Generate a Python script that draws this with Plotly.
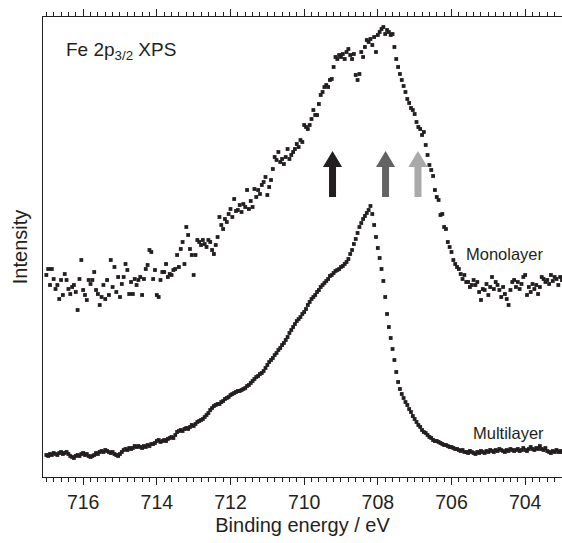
import plotly.graph_objects as go

# Binding-energy grid (eV), 0.05 eV steps from 717.00 down to 703.00
energy_start = 717.0
energy_step = 0.05

# Intensities (arbitrary units)
monolayer = [
    202, 208, 192, 208, 198, 188, 192, 178, 197, 182,
    203, 197, 188, 183, 190, 192, 185, 167, 198, 217,
    187, 182, 177, 197, 193, 197, 205, 187, 183, 172,
    180, 192, 178, 197, 182, 217, 190, 210, 185, 200,
    180, 193, 200, 213, 207, 183, 195, 183, 198, 192,
    197, 200, 182, 198, 208, 212, 227, 225, 198, 207,
    182, 180, 197, 205, 205, 213, 200, 203, 202, 207,
    208, 222, 210, 228, 235, 213, 250, 242, 228, 222,
    202, 222, 237, 235, 232, 237, 233, 230, 237, 235,
    227, 223, 232, 240, 260,
    252, 248, 258, 255, 263,
    268, 260, 278, 266, 267,
    272, 265, 273, 270, 287,
    268, 276, 270, 288, 280,
    287, 283, 292, 295, 300,
    282, 290, 297, 308, 320,
    317, 325, 315, 318, 313,
    320, 328, 318, 322, 325,
    328, 333, 330, 337, 335,
    352, 350, 348, 352, 358,
    367, 362, 362, 373, 382,
    385, 390, 392, 390, 397,
    398, 410, 420, 418, 422,
    420, 423, 418, 425, 428,
    422, 418, 423, 402, 397,
    403, 425, 420, 430, 437,
    435, 438, 432, 440, 425,
    442, 445, 448, 450, 443,
    447, 445, 442, 443, 430,
    418, 410, 403, 397, 391,
    385, 378, 374, 369, 367,
    363, 355, 350, 348, 342,
    345, 332, 322, 312, 307,
    301, 287, 280, 277, 262,
    263, 250, 248, 235, 230,
    225, 217, 213, 210, 208,
    203, 198, 202, 195, 195,
    190, 192, 197, 192, 195,
    185, 177, 188, 187, 193,
    182, 190, 200, 188, 195,
    192, 187, 180, 190, 183,
    178, 172, 187, 195, 197,
    190, 195, 188, 193, 200,
    202, 182, 190, 185, 193,
    188, 192, 183, 190, 200,
    198, 195, 197, 193, 202,
    196, 200, 198, 192, 200,
    197,
]

multilayer = [
    22, 21, 23, 22, 24, 23, 22, 24, 25, 23,
    24, 25, 23, 21, 20, 19, 21, 22, 21, 23,
    24, 22, 23, 21, 20, 21, 22, 24, 23, 25,
    26, 25, 27, 26, 25, 24, 25, 23, 22, 21,
    23, 25, 27, 28, 27, 29, 28, 29, 31, 30,
    31, 30, 29, 31, 30, 32, 31, 33, 33, 34,
    36, 37, 35, 36, 37, 36, 38, 39, 40, 39,
    42, 45, 46, 47, 46, 48, 49, 48, 50, 52,
    51, 53, 55, 56, 57, 58, 60, 62, 64, 67,
    69, 71, 72, 73, 73, 75, 76, 78, 79, 80,
    82, 83, 84, 85, 86, 86, 87, 88, 89, 91,
    92, 94, 96, 98, 100, 101, 103, 104, 106, 109,
    112, 115, 117, 119, 122, 124, 127, 129, 132, 134,
    137, 140, 144, 147, 150, 153, 156, 158, 160, 163,
    165, 168, 172, 175, 178, 180, 182, 185, 187, 190,
    192, 194, 196, 198, 201, 202, 204, 206, 207, 208,
    210, 211, 213, 215, 218, 223, 227, 233, 238, 244,
    250, 254, 258, 261, 264, 267, 271, 263, 252, 240,
    229, 219, 208, 196, 180, 163, 150, 139, 128, 117,
    105, 95, 88, 83, 79, 75, 72, 68, 65, 61,
    58, 55, 52, 50, 47, 45, 44, 42, 40, 39,
    37, 36, 36, 35, 34, 33, 32, 32, 31, 30,
    30, 29, 28, 28, 27, 26, 27, 25, 25, 24,
    26, 25, 24, 23, 25, 24, 26, 25, 24, 26,
    25, 27, 26, 25, 27, 26, 28, 27, 26, 25,
    27, 26, 28, 27, 26, 27, 28, 26, 27, 29,
    27, 26, 28, 30, 28, 27, 29, 28, 31, 28,
    27, 29, 26, 25, 24, 26, 25, 27, 25, 26,
    25,
]

energy = [round(energy_start - k * energy_step, 2) for k in range(len(monolayer))]

x_tick_values = [716, 714, 712, 710, 708, 706, 704]
x_range = [717.09, 703.0]
y_range = [0, 460]

# Arrows marking components (binding energy, colour)
arrow_energy = [709.23, 707.79, 706.91]
arrow_color = ["#231f20", "#636363", "#a9a9a9"]
arrow_bottom = 280
arrow_top = 326
arrow_head = 16
arrow_shaft_half = 0.095
arrow_head_half = 0.26

INK = "#231f20"
FONT = "Liberation Sans, Arial, Helvetica, sans-serif"

fig = go.Figure()
fig.add_trace(go.Scatter(
    x=energy, y=monolayer, mode="markers", name="Monolayer",
    marker=dict(symbol="square", size=3.8, color=INK, line=dict(width=0)),
    showlegend=False,
))
fig.add_trace(go.Scatter(
    x=energy, y=multilayer, mode="markers", name="Multilayer",
    marker=dict(symbol="square", size=3.8, color=INK, line=dict(width=0)),
    showlegend=False,
))

for e, c in zip(arrow_energy, arrow_color):
    yh = arrow_top - arrow_head
    path = (
        f"M {e - arrow_shaft_half},{arrow_bottom} "
        f"L {e - arrow_shaft_half},{yh} "
        f"L {e - arrow_head_half},{yh} "
        f"L {e},{arrow_top} "
        f"L {e + arrow_head_half},{yh} "
        f"L {e + arrow_shaft_half},{yh} "
        f"L {e + arrow_shaft_half},{arrow_bottom} Z"
    )
    fig.add_shape(type="path", path=path, xref="x", yref="y",
                  fillcolor=c, line=dict(width=0), layer="above")

fig.add_annotation(x=0.04, y=0.927, xref="paper", yref="paper",
                   text="Fe 2p<sub>3/2</sub> XPS", showarrow=False,
                   xanchor="left", yanchor="middle",
                   font=dict(family=FONT, size=19, color=INK))
fig.add_annotation(x=0.97, y=223, xref="paper", yref="y",
                   text="Monolayer", showarrow=False,
                   xanchor="right", yanchor="middle",
                   font=dict(family=FONT, size=16.5, color=INK))
fig.add_annotation(x=0.97, y=44, xref="paper", yref="y",
                   text="Multilayer", showarrow=False,
                   xanchor="right", yanchor="middle",
                   font=dict(family=FONT, size=16.5, color=INK))

fig.update_layout(
    width=562, height=543,
    margin=dict(l=43, r=0, t=17, b=66, autoexpand=False),
    paper_bgcolor="white", plot_bgcolor="white",
    font=dict(family=FONT, size=19, color=INK),
    xaxis=dict(
        range=x_range, tickmode="array", tickvals=x_tick_values,
        ticks="outside", ticklen=7, tickwidth=1, tickcolor=INK,
        showline=True, linecolor=INK, linewidth=1.2, mirror="ticks",
        showgrid=False, zeroline=False, automargin=False,
        tickfont=dict(family=FONT, size=19.5, color=INK),
        minor=dict(tick0=716, dtick=0.2, ticks="outside", ticklen=4,
                   tickwidth=1, tickcolor=INK, showgrid=False),
        title=dict(text="Binding energy / eV", standoff=6,
                   font=dict(family=FONT, size=20, color=INK)),
    ),
    yaxis=dict(
        range=y_range, showline=True, linecolor=INK, linewidth=1.2,
        mirror=False, ticks="", showticklabels=False, showgrid=False,
        zeroline=False, automargin=False,
        title=dict(text="Intensity", standoff=8,
                   font=dict(family=FONT, size=20, color=INK)),
    ),
)

fig.write_html(
    "out.html",
    config={"displayModeBar": False},
    post_script="document.body.style.margin='0';"
                "document.body.style.overflow='hidden';",
)
